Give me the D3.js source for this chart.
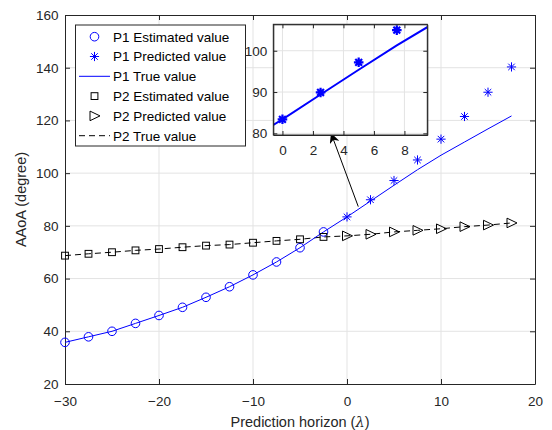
<!DOCTYPE html>
<html><head><meta charset="utf-8">
<script src="https://cdn.jsdelivr.net/npm/d3@7"></script>
<style>
html,body{margin:0;padding:0;background:#fff;}
svg{display:block;font-family:"Liberation Sans",Arial,Helvetica,sans-serif;}
</style></head>
<body><svg id="c" width="552" height="430"></svg>
<script>
// ---- data ----
const xEst = [-30,-27.5,-25,-22.5,-20,-17.5,-15,-12.5,-10,-7.5,-5,-2.5];
const xPred = [0,2.5,5,7.5,10,12.5,15,17.5];
const p1Est = [35.8,37.9,40.0,43.0,46.0,49.1,52.9,56.9,61.4,66.3,71.7,77.7];
const p1Pred = [83.4,89.9,97.2,105.0,112.9,121.5,130.7,140.3];
const p1TrueFut = [83.4,89.4,95.4,101.3,106.8,111.8,116.8,121.7];
const p2Est = [68.7,69.4,70.0,70.7,71.2,71.9,72.5,72.9,73.6,74.3,74.9,75.8];
const p2Pred = [76.2,76.8,77.7,78.3,78.9,79.7,80.3,81.1];
const xTicks = [-30,-20,-10,0,10,20];
const yTicks = [20,40,60,80,100,120,140,160];
const insetXTicks = [0,2,4,6,8];
const insetYTicks = [80,90,100];
const legendLabels = ["P1 Estimated value","P1 Predicted value","P1 True value","P2 Estimated value","P2 Predicted value","P2 True value"];
const arrowFrom = [1.2, 87.3], arrowTo = [-1.7, 115.2];

const xAll = xEst.concat(xPred);
const p1True = p1Est.concat(p1TrueFut);
const p2True = p2Est.concat(p2Pred);

const svg = d3.select("#c");
const L=65,R=535,T=15,B=384;
const x = d3.scaleLinear().domain([-30,20]).range([L,R]);
const y = d3.scaleLinear().domain([20,160]).range([B,T]);
const axisCol = "#262626", gridCol = "#e3e3e3", blue = "#0000ff";

// markers
function circle(g, cx, cy, col){ g.append("circle").attr("cx",cx).attr("cy",cy).attr("r",4.3).attr("fill","none").attr("stroke",col).attr("stroke-width",1); }
function star(g, cx, cy, col, r, w){
  let d="";
  for(let i=0;i<4;i++){ const a=i*Math.PI/4; d+=`M${cx-r*Math.cos(a)},${cy-r*Math.sin(a)}L${cx+r*Math.cos(a)},${cy+r*Math.sin(a)}`; }
  g.append("path").attr("d",d).attr("stroke",col).attr("stroke-width",w).attr("fill","none");
}
function square(g,cx,cy,col){ g.append("rect").attr("x",cx-3.4).attr("y",cy-3.4).attr("width",6.8).attr("height",6.8).attr("fill","none").attr("stroke",col).attr("stroke-width",1); }
function tri(g,cx,cy,col){ g.append("path").attr("d",`M${cx-4.5},${cy-4.8}L${cx+5.5},${cy}L${cx-4.5},${cy+4.8}Z`).attr("fill","none").attr("stroke",col).attr("stroke-width",1); }

// grid
const grid = svg.append("g");
xTicks.forEach(t=>{ if(t>-30&&t<20) grid.append("line").attr("x1",x(t)).attr("x2",x(t)).attr("y1",T).attr("y2",B).attr("stroke",gridCol); });
yTicks.forEach(t=>{ if(t>20&&t<160) grid.append("line").attr("x1",L).attr("x2",R).attr("y1",y(t)).attr("y2",y(t)).attr("stroke",gridCol); });

// axes
const xa = svg.append("g").attr("transform",`translate(0,${B})`).call(d3.axisBottom(x).tickValues(xTicks).tickSizeInner(-5).tickSizeOuter(0).tickPadding(12).tickFormat(d3.format("d")));
const xt = svg.append("g").attr("transform",`translate(0,${T})`).call(d3.axisTop(x).tickValues(xTicks).tickSizeInner(-5).tickSizeOuter(0).tickFormat(""));
const ya = svg.append("g").attr("transform",`translate(${L},0)`).call(d3.axisLeft(y).tickValues(yTicks).tickSizeInner(-5).tickSizeOuter(0).tickPadding(6.5));
const yr = svg.append("g").attr("transform",`translate(${R},0)`).call(d3.axisRight(y).tickValues(yTicks).tickSizeInner(-5).tickSizeOuter(0).tickFormat(""));
[xa,xt,ya,yr].forEach(a=>{ a.selectAll("path").attr("stroke",axisCol); a.selectAll("line").attr("stroke",axisCol); a.selectAll("text").attr("fill","#262626").style("font-size","13.5px").style("font-family","'Liberation Sans',Arial,sans-serif"); });

svg.append("text").attr("x",(L+R)/2).attr("y",426.5).attr("text-anchor","middle").attr("fill","#262626").style("font-size","14.5px")
  .html('Prediction horizon (<tspan font-style="italic" font-family="DejaVu Serif">λ</tspan>)');
svg.append("text").attr("transform",`translate(26,${(T+B)/2}) rotate(-90)`).attr("text-anchor","middle").attr("fill","#262626").style("font-size","14.5px").text("AAoA (degree)");

// data lines
const line = d3.line().x(d=>x(d[0])).y(d=>y(d[1]));
const plot = svg.append("g");
plot.append("path").attr("d",line(xAll.map((v,i)=>[v,p2True[i]]))).attr("fill","none").attr("stroke","#000").attr("stroke-width",1).attr("stroke-dasharray","6,4");
plot.append("path").attr("d",line(xAll.map((v,i)=>[v,p1True[i]]))).attr("fill","none").attr("stroke",blue).attr("stroke-width",1);
xEst.forEach((v,i)=>circle(plot,x(v),y(p1Est[i]),blue));
xPred.forEach((v,i)=>star(plot,x(v),y(p1Pred[i]),blue,4.6,1));
xEst.forEach((v,i)=>square(plot,x(v),y(p2Est[i]),"#000"));
xPred.forEach((v,i)=>tri(plot,x(v),y(p2Pred[i]),"#000"));

// arrow
const defs = svg.append("defs");
defs.append("marker").attr("id","ah").attr("viewBox","0 0 10 10").attr("refX",10).attr("refY",5).attr("markerWidth",10).attr("markerHeight",10).attr("markerUnits","userSpaceOnUse").attr("orient","auto")
  .append("path").attr("d","M0,0L10,5L0,10L3,5Z").attr("fill","#000");
svg.append("line").attr("x1",x(arrowFrom[0])).attr("y1",y(arrowFrom[1])).attr("x2",x(arrowTo[0])).attr("y2",y(arrowTo[1])).attr("stroke","#000").attr("stroke-width",1).attr("marker-end","url(#ah)");

// inset
const IL=273.3, IR=427.3, IT=24.3, IB=135;
const xi = d3.scaleLinear().domain([-0.6,9.5]).range([IL,IR]);
const yi = d3.scaleLinear().domain([79.6,106.4]).range([IB,IT]);
const inset = svg.append("g");
inset.append("rect").attr("x",IL).attr("y",IT).attr("width",IR-IL).attr("height",IB-IT).attr("fill","#fff");
insetXTicks.forEach(t=>inset.append("line").attr("x1",xi(t)).attr("x2",xi(t)).attr("y1",IT).attr("y2",IB).attr("stroke",gridCol));
insetYTicks.forEach(t=>inset.append("line").attr("x1",IL).attr("x2",IR).attr("y1",yi(t)).attr("y2",yi(t)).attr("stroke",gridCol));
defs.append("clipPath").attr("id","ic").append("rect").attr("x",IL).attr("y",IT).attr("width",IR-IL).attr("height",IB-IT);
const iline = d3.line().x(d=>xi(d[0])).y(d=>yi(d[1]));
const ig = inset.append("g").attr("clip-path","url(#ic)");
ig.append("path").attr("d",iline(xAll.map((v,i)=>[v,p1True[i]]))).attr("fill","none").attr("stroke",blue).attr("stroke-width",2);
xPred.forEach((v,i)=>star(ig,xi(v),yi(p1Pred[i]),blue,4.8,2.2));
const ixa = inset.append("g").attr("transform",`translate(0,${IB})`).call(d3.axisBottom(xi).tickValues(insetXTicks).tickSizeInner(-4).tickSizeOuter(0).tickPadding(10));
const ixt = inset.append("g").attr("transform",`translate(0,${IT})`).call(d3.axisTop(xi).tickValues(insetXTicks).tickSizeInner(-4).tickSizeOuter(0).tickFormat(""));
const iya = inset.append("g").attr("transform",`translate(${IL},0)`).call(d3.axisLeft(yi).tickValues(insetYTicks).tickSizeInner(-4).tickSizeOuter(0).tickPadding(6));
const iyr = inset.append("g").attr("transform",`translate(${IR},0)`).call(d3.axisRight(yi).tickValues(insetYTicks).tickSizeInner(-4).tickSizeOuter(0).tickFormat(""));
[ixa,ixt,iya,iyr].forEach(a=>{ a.selectAll("path").attr("stroke",axisCol); a.selectAll("line").attr("stroke",axisCol); a.selectAll("text").attr("fill","#262626").style("font-size","13.5px").style("font-family","'Liberation Sans',Arial,sans-serif"); });
inset.append("rect").attr("x",IL).attr("y",IT).attr("width",IR-IL).attr("height",IB-IT).attr("fill","none").attr("stroke",axisCol);

// legend
const lg = svg.append("g");
lg.append("rect").attr("x",75.5).attr("y",25).attr("width",170).attr("height",121).attr("fill","#fff").attr("stroke",axisCol);
legendLabels.forEach((lab,i)=>{
  const cy = 36.7 + i*19.8, mx = 94.5;
  if(i===0) circle(lg,mx,cy,blue);
  if(i===1) star(lg,mx,cy,blue,4.6,1);
  if(i===2) lg.append("line").attr("x1",79).attr("x2",110).attr("y1",cy).attr("y2",cy).attr("stroke",blue);
  if(i===3) square(lg,mx,cy,"#000");
  if(i===4) tri(lg,mx,cy,"#000");
  if(i===5) lg.append("line").attr("x1",79).attr("x2",110).attr("y1",cy).attr("y2",cy).attr("stroke","#000").attr("stroke-dasharray","6,4");
  lg.append("text").attr("x",113).attr("y",cy).attr("dy","0.36em").attr("fill","#000").style("font-size","13.5px").text(lab);
});
</script></body></html>
